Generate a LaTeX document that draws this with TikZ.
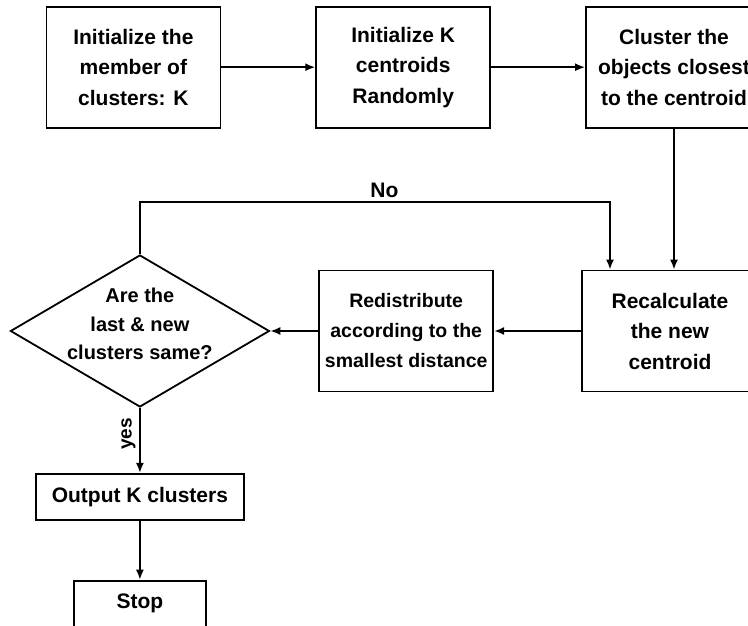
\documentclass[tikz,border=0pt]{standalone}
\usepackage{fontspec}
\setmainfont{Liberation Sans}
\usetikzlibrary{shapes,arrows.meta}
\usetikzlibrary{positioning}
\tikzset{auto,>={Latex[length=10pt,width=8pt]}, node distance=1cm, font=\bfseries\fontsize{21}{30.5}\selectfont}
\tikzstyle{block} = [draw, fill=white, rectangle, minimum height=121pt, minimum width=174pt, text centered, align=center, inner sep=0pt]
\tikzstyle{decision} = [draw, fill=white, diamond, minimum height=152pt, minimum width=259pt, inner sep=0pt]
\tikzstyle{small block} = [draw, fill=white, rectangle, minimum height=46pt, text centered]

\begin{document}
\begin{tikzpicture}[line width=1.8pt]
    \useasboundingbox (0,0) rectangle (748pt,-626pt);
    \node [block] (init) at (133.4pt,-67.2pt) {Initialize the\\member of\\clusters: K};
    \node [block, right=94pt of init] (initk) {Initialize K\\centroids\\Randomly};
    \node [block, right=94pt of initk, minimum width=176pt] (clust) {Cluster the\\objects closest\\to the centroid};
    \node [block, below=141pt of clust, xshift=-4pt, minimum width=176pt] (recalc) {Recalculate\\the new\\centroid};
    \node [block, left=87pt of recalc, font=\bfseries\fontsize{19.5}{30}\selectfont] (redist) {Redistribute\\according to the\\smallest distance};
    \node [decision, left=48pt of redist, label={[align=center, yshift=7pt, font=\bfseries\fontsize{20}{28.5}\selectfont]center:{Are the\\last \& new\\clusters same?}}] (same) {};
    \node [small block, minimum width=208pt, below=65pt of same] (output) {Output K clusters};
    \node [small block, minimum width=132pt, below=59pt of output] (stop) {Stop};

    \draw [->] (init) -- (initk);
    \draw [->] (initk) -- (clust);
    \draw [->] (clust.south) -- (clust.south |- recalc.north);
    \draw [->] (recalc) -- (redist);
    \draw [->] (redist) -- (same);
    \draw [->] (same.north) -- ++(0,52pt) -| node [pos=0.26, above] {No} ([xshift=-60pt]recalc.north);
    \draw [->] (same) -- node [pos=0.4, rotate=90, above, font=\bfseries\fontsize{19}{19}\selectfont] {yes} (output);
    \draw [->] (output) -- (stop);
\end{tikzpicture}
\end{document}
